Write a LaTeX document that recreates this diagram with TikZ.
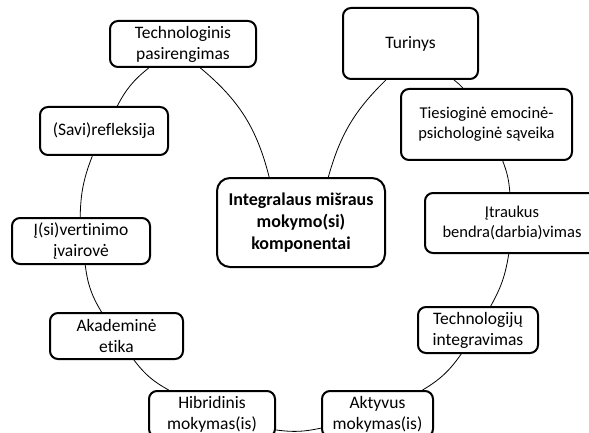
\documentclass[tikz,border=0pt]{standalone}
\usepackage{fontspec}
\setmainfont{Carlito}[Ligatures=NoCommon]
\usetikzlibrary{calc}
\newcommand{\ring}[3]{\draw[link] (#1) to[bend right=#3] (#2);}

\begin{document}
\begin{tikzpicture}[x=1pt, y=-1pt,
        part/.style={draw, line width=2pt, rounded corners=8pt, fill=white,
            align=center, inner sep=0pt, font=\fontsize{17.5}{21}\selectfont},
        snug/.style={part, font=\fontsize{16.5}{20}\selectfont},
        hub/.style={part, rounded corners=13pt, font=\fontsize{18}{22}\selectfont\bfseries},
        link/.style={line width=0.8pt}]
        \useasboundingbox (0,0) rectangle (589,433);
        % centre
        \node[hub, minimum width=168pt, minimum height=89pt] (hub) at (301,222.5)
            {Integralaus mišraus\\mokymo(si)\\komponentai};
        % left side
        \node[part, minimum width=146pt, minimum height=46pt] (tech) at (183,44) {Technologinis\\pasirengimas};
        \node[part, minimum width=128pt, minimum height=48pt] (refl) at (104,131) {(Savi)refleksija};
        \node[part, minimum width=138pt, minimum height=46pt] (ivert) at (81,241) {Į(si)vertinimo\\įvairovė};
        \node[part, minimum width=133pt, minimum height=46pt] (etika) at (116.5,336) {Akademinė\\etika};
        % bottom
        \node[part, minimum width=126pt, minimum height=46pt] (hibr) at (212,414) {Hibridinis\\mokymas(is)};
        \node[part, minimum width=111pt, minimum height=46pt] (aktyv) at (377.5,414) {Aktyvus\\mokymas(is)};
        % right side
        \node[part, minimum width=120pt, minimum height=46pt] (integ) at (478,330) {Technologijų\\integravimas};
        \node[snug, minimum width=174pt, minimum height=60pt] (itrauk) at (512,223) {Įtraukus\\bendra(darbia)vimas};
        \node[snug, minimum width=171pt, minimum height=71pt] (ties) at (486.5,124.5) {Tiesioginė emocinė-\\psichologinė sąveika};
        \node[part, minimum width=135pt, minimum height=71pt] (turin) at (410.5,43.5) {Turinys};
        % ring
        \ring{tech.215}{refl.62}{12}
        \ring{refl.245}{ivert.92}{10}
        \ring{ivert.280}{etika.122}{12}
        \ring{etika.306}{hibr.151}{12}
        \ring{hibr.346}{aktyv.194}{10}
        \ring{aktyv.28}{integ.235}{12}
        \ring{integ.62}{itrauk.264}{10}
        \ring{itrauk.94}{ties.294}{8}
        \ring{ties.123}{turin.320}{5}
        \ring{turin.236}{hub.59}{15}
        \ring{hub.125}{tech.306}{18}
\end{tikzpicture}
\end{document}
